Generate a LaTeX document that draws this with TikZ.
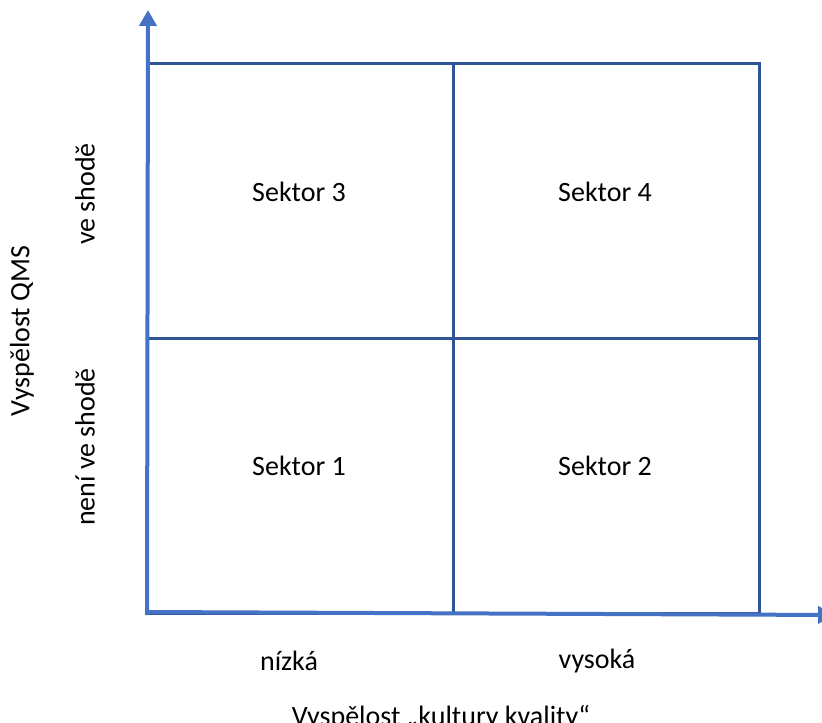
\documentclass[tikz,border=0pt]{standalone}
\usepackage{fontspec}
\setmainfont{Carlito}
\usepackage{xcolor}
\definecolor{gridblue}{HTML}{2F5597}
\definecolor{axisblue}{HTML}{4472C4}
\usetikzlibrary{arrows.meta}
\tikzset{
  >={Triangle[length=8pt,width=8.5pt]},
  cell/.style ={draw=gridblue,line width=1.5pt},
  axis/.style ={->,draw=axisblue,line width=2pt},
  lbl/.style  ={font=\fontsize{14}{17}\selectfont,inner sep=0pt},
  vlbl/.style ={lbl,rotate=90},
}

\begin{document}
\begin{tikzpicture}[x=0.5pt,y=0.5pt]
\useasboundingbox (0,0) rectangle (822,722);
% 2x2 matrix
\coordinate (sw) at (147,109);
\coordinate (ne) at (759,658);
\draw[cell] (sw) rectangle (ne);
\draw[cell] (453,109) -- (453,658);
\draw[cell] (147,383) -- (759,383);
% axes
\coordinate (x0) at (145,110);
\coordinate (x1) at (834,107);
\coordinate (y0) at (147,107);
\coordinate (y1) at (148,712);
\draw[axis] (x0) -- (x1);
\draw[axis] (y0) -- (y1);
% sectors
\node[lbl] (s3) at (299,530) {Sektor 3};
\node[lbl] (s4) at (605,530) {Sektor 4};
\node[lbl] (s1) at (299,256) {Sektor 1};
\node[lbl] (s2) at (605,256) {Sektor 2};
% axis labels
\node[lbl] (low)  at (289,61) {nízká};
\node[lbl] (high) at (597,61) {vysoká};
\node[lbl,anchor=base] (xtitle) at (441,-3) {Vyspělost „kultury kvality“};
\node[vlbl] (yes)    at (85,528) {ve shodě};
\node[vlbl] (no)     at (85,275) {není ve shodě};
\node[vlbl] (ytitle) at (22,391) {Vyspělost QMS};
\end{tikzpicture}
\end{document}
